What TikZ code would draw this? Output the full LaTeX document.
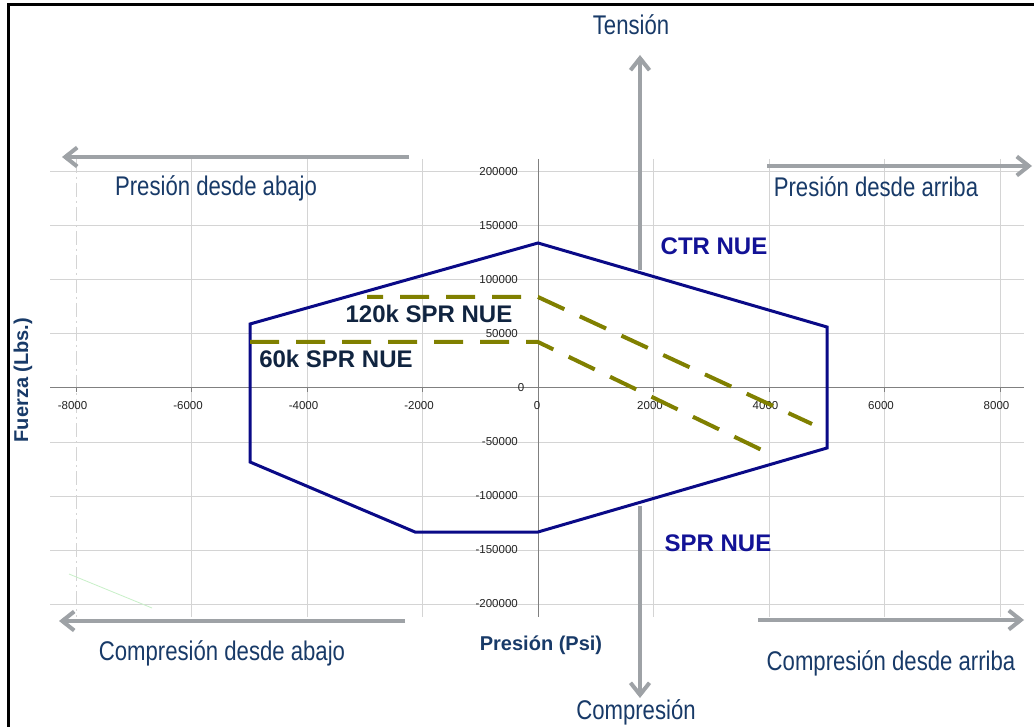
\documentclass[tikz,border=0pt]{standalone}
\usepackage{fontspec}
\setmainfont{Liberation Sans}
\usetikzlibrary{arrows.meta}
\definecolor{txtblue}{RGB}{24,58,104}
\definecolor{hexblue}{RGB}{10,10,135}
\definecolor{lblblue}{RGB}{18,18,150}
\definecolor{darklbl}{RGB}{16,36,64}
\definecolor{olivec}{RGB}{128,128,0}
\definecolor{arrowgray}{RGB}{158,162,166}
\definecolor{gridgray}{RGB}{212,212,212}
\definecolor{axisgray}{RGB}{128,128,128}
\definecolor{ticktext}{RGB}{35,35,35}
\definecolor{faintgreen}{RGB}{200,240,200}
\tikzset{
  gridline/.style={draw=gridgray, line width=1pt},
  axisline/.style={draw=axisgray, line width=1pt},
  ticklbl/.style={font=\fontsize{11.5}{12}\selectfont, text=ticktext, inner sep=0pt},
  bigtxt/.style={font=\fontsize{27}{30}\selectfont, text=txtblue, inner sep=0pt, anchor=base},
  boldlbl/.style={font=\bfseries\fontsize{24}{28}\selectfont, inner sep=0pt, anchor=base},
  axtitle/.style={font=\bfseries\fontsize{20}{24}\selectfont, text=txtblue, inner sep=0pt},
  garrow/.style={draw=arrowgray, line width=4pt, -{Straight Barb[length=12pt,width=19pt]}},
  envelope/.style={draw=hexblue, line width=3pt, line join=miter},
  sprline/.style={draw=olivec, line width=4pt, dash pattern=on 29pt off 17pt},
}
\begin{document}
\begin{tikzpicture}[x=1pt,y=-1pt]
\useasboundingbox (0,0) rectangle (1034,727);
\fill[white] (0,0) rectangle (1034,727);
% frame
\draw[line width=3pt, black] (8.5,727) -- (8.5,4.5) -- (1034,4.5);
% grid
\foreach \gx in {191.5,307,422.5,653.5,769,884.5,1000}
  \draw[gridline] (\gx,159) -- (\gx,617);
\draw[gridline, dash pattern=on 14pt off 4pt on 2pt off 4pt] (76,159) -- (76,617);
\foreach \gy in {172,226,280,334,442,496,550,604}
  \draw[gridline] (50,\gy) -- (1024,\gy);
% axes
\draw[axisline] (538,159) -- (538,617);
\draw[axisline] (50,388) -- (1024,388);
\foreach \gx in {76,191.5,307,422.5,538,653.5,769,884.5,1000}
  \draw[axisline] (\gx,388) -- (\gx,392);
% faint artefact line
\draw[faintgreen, line width=0.8pt] (69,574) -- (152,608);
% tick labels
\foreach \v/\l [count=\i] in {172/200000,226/150000,280/100000,334/50000,442/-50000,496/-100000,550/-150000,604/-200000}
  \node[ticklbl, anchor=east] (yt\i) at (518,\v) {\l};
\node[ticklbl] (yt0) at (521,388) {0};
\foreach \x/\l [count=\i] in {76/-8000,191.5/-6000,307/-4000,422.5/-2000,653.5/2000,769/4000,884.5/6000,1000/8000}
  \node[ticklbl] (xt\i) at (\x-3.5,406) {\l};
\node[ticklbl] (xt0) at (537,406) {0};
% envelope
\draw[envelope] (538,243) -- (827,327) -- (827,448) -- (538,532) -- (415,532) -- (250,462) -- (250,324) -- cycle;
% SPR lines
\draw[sprline, dash phase=13pt] (367,297) -- (538,297) -- (812,424);
\draw[sprline] (250,342) -- (538,342) -- (768,453);
% gray arrows
\coordinate (tlA) at (409,157); \coordinate (tlB) at (62,157);
\coordinate (trA) at (767,166); \coordinate (trB) at (1032,166);
\coordinate (upA) at (640,270); \coordinate (upB) at (640,55);
\coordinate (dnA) at (640,506); \coordinate (dnB) at (640,698);
\coordinate (blA) at (405,621); \coordinate (blB) at (59,621);
\coordinate (brA) at (758,620); \coordinate (brB) at (1024,620);
\draw[garrow] (tlA) -- (tlB);
\draw[garrow] (trA) -- (trB);
\draw[garrow] (upA) -- (upB);
\draw[garrow] (dnA) -- (dnB);
\draw[garrow] (blA) -- (blB);
\draw[garrow] (brA) -- (brB);
% texts
\node[bigtxt] (tension) at (631,35) {\scalebox{0.82}[1]{Tensión}};
\node[bigtxt] (pabajo) at (216,196) {\scalebox{0.82}[1]{Presión desde abajo}};
\node[bigtxt] (parriba) at (876,197) {\scalebox{0.82}[1]{Presión desde arriba}};
\node[bigtxt] (cabajo) at (222,660) {\scalebox{0.82}[1]{Compresión desde abajo}};
\node[bigtxt] (carriba) at (891,670) {\scalebox{0.82}[1]{Compresión desde arriba}};
\node[bigtxt] (compr) at (636,719) {\scalebox{0.82}[1]{Compresión}};
\node[boldlbl, text=lblblue] (ctr) at (714,255) {CTR NUE};
\node[boldlbl, text=lblblue] (spr) at (718,551) {SPR NUE};
\node[boldlbl, text=darklbl] (k120) at (429,323) {120k SPR NUE};
\node[boldlbl, text=darklbl] (k60) at (336,367) {60k SPR NUE};
\node[axtitle, rotate=90] (fuerza) at (23,380) {Fuerza (Lbs.)};
\node[axtitle, anchor=base] (presion) at (541,650) {Presión (Psi)};
\end{tikzpicture}
\end{document}
